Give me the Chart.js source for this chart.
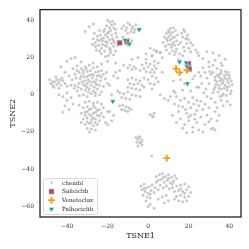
<!DOCTYPE html>
<html>
<head>
<meta charset="utf-8">
<script src="https://cdn.jsdelivr.net/npm/chart.js@4"></script>
<style>
html,body{margin:0;padding:0;background:#fff;}
#wrap{width:249px;height:249px;}
</style>
</head>
<body>
<div id="wrap"><canvas id="c" width="249" height="249"></canvas></div>
<script>
const xTicks = [-40, -20, 0, 20, 40];
const yTicks = [40, 20, 0, -20, -40, -60];
const seriesNames = ["chembl", "Saliciclib", "Venetoclax", "Palbociclib"];

const chembl = [
// top-left cluster
[-20,40],[-19,39],[-17.5,39.5],[-18,37.5],[-16.5,38],[-20.5,37],[-19,36],[-17,36],[-21.5,35],[-18.5,34.5],[-16,35],
[-27,30],[-26,28],[-25,31.5],[-24,29],[-23.5,32],[-22,30.5],[-21,28.5],[-22.5,27],[-20,31],[-19,29.5],[-18,32],[-17.5,30],
[-16.5,28],[-15.5,31],[-20.5,26],[-19,25],[-17,26],[-23,25],[-21.5,23.5],[-18.5,22.5],[-16,23.5],[-24.5,26.5],[-25.5,24],
[-20,33],[-22,34],[-15,26.5],[-14.5,29],[-26.5,33],[-19.5,21],[-17,21.5],[-21,20.5],[-23,22],[-27.5,27],[-18,27.5],[-20,28],
[-16,33],[-24,34.5],[-26,26],[-22.5,29],[-29,36.5],[-27,38],[-31,34],[-23,16.5],
[-21,32],[-19.5,33.5],[-23,30],[-21,26.5],[-18.5,24],[-24,23.5],[-17,29],[-25,29.5],
// top-middle small cluster
[-12,37],[-10.5,36],[-9,37.5],[-7.5,36.5],[-6,37.5],[-11,34.5],[-8.5,34],[-6.5,35],[-13,35.5],[-10,33],[-7,33.5],
[-9.5,30],[-11,28],[-8,29],[-10,26.5],[-12.5,31],[-8,35.5],[-10,38.5],
[4.3,23.4],[1.8,20.8],[5.9,22.6],[1,25],[3,24],[-1,22],
// top-right cluster
[8,31],[9,33],[10,34.5],[11,32],[12,33.5],[13,31],[9.5,29],[11,29.5],[12.5,28],[14,29],[10,27],[8.5,26],[11.5,25.5],
[13,26.5],[15,27],[9,24],[12,23.5],[14,24.5],[10.5,22],[13,21.5],[15.5,22],[7.5,28],[11,35.5],[13.5,34.5],[10,31],[14.5,32],[12,30.5],
[9,30],[11.5,27],[13.5,23],[10.5,33.5],[12.5,36],
[16.5,33],[18,34],[19.5,32],[17,31],[18.5,30],[20,29.5],[16,28],[19,27.5],[21,28],[17.5,25.5],[20,25],[22,26.5],[23.5,24],
[24.5,22.5],[21,23],[18,23.5],[25,21],[17.5,35],[19,30.5],
[4,23],[2,21],[6,22.5],[3,18],[7,20],[5,17],[-1,19],[15,19],[17,21],
[29,23],[32,22.5],[35,21],[27,19.5],[33,18.5],[36,17],[30,17.5],[38,19],
// right big cluster
[34,14],[36,13],[38,12.5],[32,12],[35,11],[37.5,10],[40,10.5],[33,9.5],[36,8.5],[39,8],[41,7.5],[34,7],[37,6.5],[35,5],
[38,5],[40,4.5],[33,4],[36,3],[39,2.5],[41,2],[34.5,1.5],[37,0.5],[35.5,-1],[38.5,-0.5],[32,1],[30,6],[29,9],[28,12],
[27,14.5],[26,10],[28.5,3],[31,-2],[33,-4],[36,-3],[39,-3.5],[40.5,-5.5],[30,15],[32,16],[26.5,6],[29,-1],[37,-6],[34,-7],
[31,11],[39.5,12],[41.5,5.5],[36.5,15.5],[30.5,12.5],[25,4],[27.5,1],[35,9.5],[38,9],[36.5,6],[33.5,5.5],[39.5,6.5],[37.5,3.5],
[34,10.5],[36,11.5],[38.5,10.8],[35.5,7.5],[40,9],[33,7.8],[37,8],[39,4],[35,3.5],[32.5,2.8],[40.5,0.5],[36.5,-0.5],
// right-lower scatter
[14,-1],[16,-3],[18,-2],[20,-4],[22,-1.5],[24,-3],[13,-5],[17,-6.5],[21,-7],[25,-6],[27,-8],[15,-9],[19,-10],[23,-10.5],
[26,-12],[29,-11],[31,-13],[16,-13],[20,-14],[24,-15],[28,-16],[32,-18],[33,-19],[22,-17.5],[17,-18],[25,-19],[19,-20.5],
[12,-11],[14,-15],[35,-11],[33,-9],[30,-7],[23,-13],[26,-3.5],[21,-11],[18,-16],[27,-20],[31,-18.5],[10,-3],[11,-1],
[16,8],[18,6],[22,8.5],[24,4],[21,2],[17,2.5],[23,10],[25,12],[12.5,7.5],[13.3,1.2],[12.5,2],
[18.5,-8],[22.5,-5],[28,-5],[24,-8.5],[20,-12],[15,-6],[30,-14.5],[34,-14],[22,-20],
// far-left cluster
[-48,6],[-47,5],[-46,7],[-45,8],[-44,6.5],[-43,5],[-42,7.5],[-41,6],[-46.5,4],[-44,3.5],[-42.5,9],[-40,4.5],[-48.5,8],[-45.5,9.5],
[-47,7],[-45,5.5],[-43.5,8],
// left-middle cluster
[-37,14],[-35,15.5],[-33,14],[-31,15],[-29,16],[-27,14.5],[-25,15],[-23,13],[-36,11],[-34,12],[-32,11.5],[-30,12.5],[-28,11],
[-26,12],[-24,10.5],[-22,11],[-37.5,8],[-35.5,9],[-33.5,8.5],[-31.5,9.5],[-29.5,8],[-27.5,9],[-25.5,8],[-23.5,7.5],[-21,8.5],
[-36,5],[-34,6],[-32,5.5],[-30,6],[-28,5],[-26,6.5],[-24,5],[-22,4.5],[-35,2],[-33,3],[-31,2.5],[-29,3],[-27,2],[-25,3],
[-23,1.5],[-34,-0.5],[-32,0],[-30,-1],[-28,0.5],[-26,-0.5],[-24,0],[-36.5,3.5],[-38,5],[-20,6],[-20.5,12],[-30.5,14],[-27,17],
[-33,17.5],[-26.5,4],[-29,10.5],[-33,10],[-31,7.5],[-28.5,13],[-25,10],[-30,4],[-27,7],[-32.5,7],[-24.5,12.5],
[-34.5,4],[-31,4.8],[-28.5,7],[-25.5,5.5],[-23,9.5],[-35,13],[-32,13],[-29.5,1.5],[-27,10.5],[-30,9.8],[-26,1],
[-40,18],[-38,19.5],[-43,15],[-41,12],[-39,10],[-42,-1],[-40,-3],[-41,-6],[-39,-8],[-42,-9.5],[-37,-5],[-36,20],[-44,0],[-38,-1.5],[-40,1],
// left-lower cluster
[-31,-4],[-29,-3.5],[-27,-4.5],[-25,-4],[-23,-5],[-32,-7],[-30,-6.5],[-28,-7.5],[-26,-7],[-24,-8],[-22,-7],[-33,-10],[-31,-9.5],
[-29,-10.5],[-27,-10],[-25,-11],[-23,-10],[-32,-13],[-30,-12.5],[-28,-13.5],[-26,-13],[-24,-14],[-31,-16],[-29,-15.5],
[-27,-16.5],[-25,-16],[-28,-18.5],[-30,-18],[-26,-19],[-22,-12],[-21,-15],[-20,-9],[-34,-5.5],[-33,-15],[-29,-20],[-27,-6],
[-26,-9.5],[-30,-9],[-28,-11.5],[-19,-9],[-18,-14],[-20,-16],[-17,-11],
[-29,-8],[-27,-12.5],[-25,-8.5],[-31,-11],[-24,-11.5],[-28,-15],[-30,-14.5],[-26,-15],
// center cluster
[-3,16],[-1,17],[1,16.5],[3,15.5],[-2,14],[0,15],[2,13.5],[4,14],[-4,13],[1,12],[-1,12.5],[3,12],
[-9,16],[-7,15],[-8,13.5],[-6,14],[-10,14.5],[-12,16],[-14,13],[-16,12],[-15,9],
[-10,8],[-8,9],[-6,8],[-4,7.5],[-9,6],[-7,5.5],[-5,6],[-3,5],[-8,3.5],[-6,3],[-4,2.5],[-2,4],[-10,4],[-2,9],[0,8],[2,10],
[4,9],[1,6],[3,5.5],[5,7],[2,3],
[-14,1],[-12,0.5],[-10,1.5],[-8,0],[-6,-0.5],[-4,-1],[-13,-1.5],[-11,-2],[-15,2],[-9,-2.5],
[-17,10],[-19,5],[-18,0],[-16,17],[-20,18],[-5,20],[-8,19],[7,12],[6,0],[8,-2],
// small clusters
[-14,-6],[-12.5,-5.5],[-11,-6.5],[-9.5,-7],[-13,-8],[-11.5,-8.5],[-10,-9],[-8.5,-8],
[1,-10.5],[2,-11.5],[3,-10],[2.5,-12],
[-6,-23],[-5,-24],[-4,-23],[-3,-24.5],[-5.5,-25.5],[-4,-26],[-3,-27],[-5,-27.5],[-4.5,-22.5],[-3.5,-25.5],
[1.8,-33],
// bottom cluster
[-3.5,-49],[-2,-48],[-1,-50],[0.5,-49.5],[2,-48.5],[-3,-51],[-1.5,-52],[0,-53],[1.5,-51.5],[3,-52.5],[-2.5,-54],[-0.5,-55],
[1,-55.5],[3.5,-50],[4,-47],
[4,-44],[5.5,-43],[7,-42.5],[8.5,-44],[10,-43],[11.5,-44.5],[13,-43.5],[5,-46],[6.5,-45.5],[8,-47],[9.5,-46],[11,-47.5],
[12.5,-46.5],[14,-45],[6,-48.5],[9,-49],[7.5,-50],[10.5,-50.5],[5,-51],
[12,-50],[14,-49],[16,-48.5],[18,-48],[20,-49.5],[13,-52],[15,-51.5],[17,-52],[19,-51],[21,-52.5],[14,-54.5],[16,-54],
[18,-55],[20,-54.5],[15,-57],[17,-57.5],[19,-57],[13,-56],
[-1,-57],[1,-59],[3,-61],[0,-60],[5,-56],[7,-55],[9,-54],[8,-58],[10,-57],
[7.5,-44.5],[10,-45],[12,-48],[16,-50.5],[18,-53],[-2,-50.5],[1,-53.5]
];

const saliciclib = [[-14,27.8],[-10.5,28.4],[19.9,16.7],[20.3,13.8]];
const venetoclax = [[13.8,14.0],[15.5,11.9],[19.1,13.1],[9.2,-34.1]];
const palbociclib = [[-4.4,35],[-11.4,29.3],[-9.2,27.3],[15.5,17.7],[19.1,15.4],[18.8,17.2],[19.4,6],[-17.4,-3.6]];

const toXY = arr => arr.map(([x, y]) => ({x, y}));
const SERIF = "'DejaVu Serif', serif";

const styles = [
  {pointStyle:'circle', radius:1.5, bg:'rgba(178,178,178,0.75)', border:'rgba(255,255,255,0.5)', bw:0.3, rotation:0},
  {pointStyle:'rect', radius:3.8, bg:'#a6506f', border:'#ffffff', bw:0.4, rotation:0},
  {pointStyle:'cross', radius:3.4, bg:'#f29f1c', border:'#f29f1c', bw:1.9, rotation:0},
  {pointStyle:'triangle', radius:3.2, bg:'#2b9a8b', border:'#ffffff', bw:0.4, rotation:180}
];
const seriesData = [chembl, saliciclib, venetoclax, palbociclib];

const datasets = seriesNames.map((name, i) => ({
  label: name,
  data: toXY(seriesData[i]),
  pointStyle: styles[i].pointStyle,
  pointRadius: styles[i].radius,
  pointHoverRadius: styles[i].radius,
  pointBackgroundColor: styles[i].bg,
  pointBorderColor: styles[i].border,
  pointBorderWidth: styles[i].bw,
  pointRotation: styles[i].rotation,
  order: 4 - i
}));

const framePlugin = {
  id: 'frame',
  afterDatasetsDraw(chart) {
    const {ctx, chartArea: a} = chart;
    ctx.save();
    ctx.strokeStyle = '#222';
    ctx.lineWidth = 1.3;
    ctx.strokeRect(a.left, a.top, a.right - a.left, a.bottom - a.top);
    ctx.restore();
  }
};

const legendPlugin = {
  id: 'boxLegend',
  afterDraw(chart) {
    const {ctx, chartArea: a} = chart;
    const x0 = a.left + 3, y0 = a.bottom - 39, w = 54, h = 36;
    ctx.save();
    ctx.fillStyle = 'rgba(255,255,255,0.85)';
    ctx.strokeStyle = '#d0d0d0';
    ctx.lineWidth = 0.8;
    ctx.beginPath();
    if (ctx.roundRect) ctx.roundRect(x0 + 0.5, y0 + 0.5, w, h, 2); else ctx.rect(x0 + 0.5, y0 + 0.5, w, h);
    ctx.fill();
    ctx.stroke();
    ctx.font = "5.7px " + SERIF;
    ctx.textBaseline = 'middle';
    ctx.textAlign = 'left';
    seriesNames.forEach((name, i) => {
      const cy = y0 + 4.8 + i * 8.75;
      const cx = x0 + 8.5;
      const s = styles[i];
      ctx.fillStyle = s.bg;
      ctx.strokeStyle = s.border;
      ctx.lineWidth = s.bw;
      Chart.helpers.drawPoint(ctx, {pointStyle: s.pointStyle, radius: i === 0 ? 1.4 : s.radius, borderWidth: s.bw, rotation: s.rotation}, cx, cy);
      ctx.fillStyle = '#222';
      ctx.fillText(name, x0 + 19, cy + 0.3);
    });
    ctx.restore();
  }
};

const fmt = v => String(v).replace('-', '\u2212');

new Chart(document.getElementById('c'), {
  type: 'scatter',
  data: {datasets},
  options: {
    responsive: false,
    animation: false,
    devicePixelRatio: 1,
    layout: {padding: {top: 8, right: 8, left: 0, bottom: 0}},
    plugins: {legend: {display: false}, tooltip: {enabled: false}},
    scales: {
      x: {
        type: 'linear', min: -53.3, max: 45.8,
        grid: {display: false, drawTicks: false},
        border: {display: false},
        afterBuildTicks: s => { s.ticks = xTicks.map(v => ({value: v})); },
        afterFit: s => { s.height = 32; },
        ticks: {color: '#333', padding: 6, font: {family: SERIF, size: 6}, callback: fmt, maxRotation: 0},
        title: {display: true, text: 'TSNE1', color: '#222', font: {family: SERIF, size: 8}, padding: {top: 0, bottom: 8}}
      },
      y: {
        type: 'linear', min: -65.7, max: 45.7,
        grid: {display: false, drawTicks: false},
        border: {display: false},
        afterBuildTicks: s => { s.ticks = yTicks.map(v => ({value: v})); },
        afterFit: s => { s.width = 40; },
        ticks: {color: '#333', padding: 6, font: {family: SERIF, size: 6}, callback: fmt},
        title: {display: true, text: 'TSNE2', color: '#222', font: {family: SERIF, size: 8}, padding: {top: 8, bottom: 0}}
      }
    }
  },
  plugins: [framePlugin, legendPlugin]
});
</script>
</body>
</html>
